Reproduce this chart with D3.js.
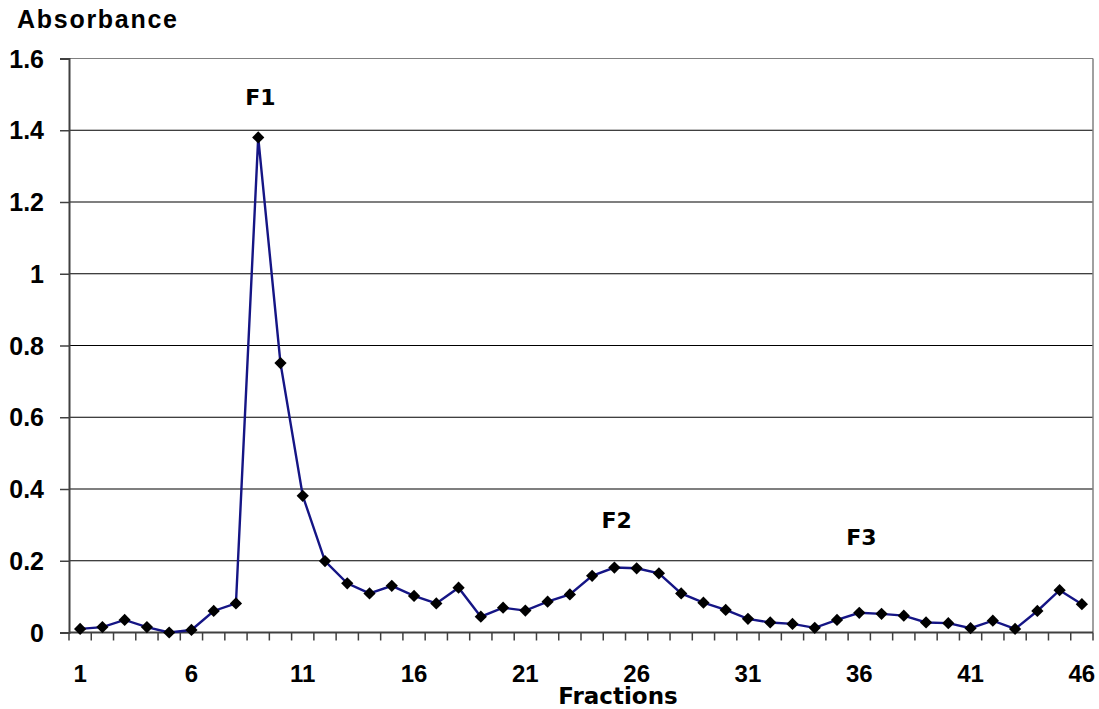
<!DOCTYPE html>
<html lang="en">
<head>
<meta charset="utf-8">
<title>Absorbance by fraction</title>
<script src="https://d3js.org/d3.v7.min.js"></script>
<style>
  body { margin: 0; background: #fff; }
  .lbl { font-family: "Liberation Sans", Arial, sans-serif; font-weight: bold; fill: #000; }
  .peak { font-family: "DejaVu Sans", Verdana, sans-serif; font-weight: bold; fill: #000; }
</style>
</head>
<body>
<script>
// Data
var fractions = d3.range(1, 47);
var absorbance = [
  0.010, 0.015, 0.035, 0.015, 0.000, 0.007, 0.060, 0.081, 1.380, 0.751,
  0.381, 0.199, 0.137, 0.109, 0.130, 0.102, 0.081, 0.125, 0.044, 0.069,
  0.061, 0.086, 0.106, 0.158, 0.181, 0.179, 0.165, 0.109, 0.083, 0.063,
  0.038, 0.028, 0.024, 0.013, 0.035, 0.055, 0.052, 0.047, 0.028, 0.026,
  0.012, 0.033, 0.010, 0.060, 0.118, 0.079
];
var yTicks = [0, 0.2, 0.4, 0.6, 0.8, 1, 1.2, 1.4, 1.6];
var xTickLabels = [1, 6, 11, 16, 21, 26, 31, 36, 41, 46];
var peakLabels = [
  { text: "F1", fraction: 9, value: 1.47 },
  { text: "F2", fraction: 25, value: 0.29 },
  { text: "F3", fraction: 36, value: 0.245 }
];

// Plot box
var W = 1099, H = 709;
var plotL = 69, plotR = 1093, plotT = 58.5, plotB = 632.5;

var svg = d3.select("body").append("svg")
  .attr("width", W).attr("height", H);

var x = d3.scaleBand().domain(fractions).range([plotL, plotR]).padding(0);
var y = d3.scaleLinear().domain([0, 1.6]).range([plotB, plotT]);
var cx = function(f) { return x(f) + x.bandwidth() / 2; };

// gridlines
svg.append("g").selectAll("line")
  .data(yTicks.filter(function(d) { return d > 0; }))
  .enter().append("line")
  .attr("x1", plotL).attr("x2", plotR)
  .attr("y1", function(d) { return y(d); })
  .attr("y2", function(d) { return y(d); })
  .attr("stroke", function(d) { return d === 1.6 ? "#808080" : "#000"; })
  .attr("stroke-width", 1.2);

// right border
svg.append("line")
  .attr("x1", plotR).attr("x2", plotR).attr("y1", plotT).attr("y2", plotB)
  .attr("stroke", "#808080").attr("stroke-width", 1.5);

// y axis
var yAxis = d3.axisLeft(y).tickValues(yTicks).tickSize(9).tickFormat(d3.format("~g"));
var gy = svg.append("g").attr("transform", "translate(" + plotL + ",0)").call(yAxis);
gy.select(".domain").attr("stroke", "#404040").attr("stroke-width", 2);
gy.selectAll(".tick line").attr("stroke", "#404040").attr("stroke-width", 1.5);
gy.selectAll(".tick text").remove();
svg.append("g").selectAll("text")
  .data(yTicks)
  .enter().append("text")
  .attr("class", "lbl")
  .attr("x", 44)
  .attr("y", function(d) { return y(d) + 9; })
  .attr("text-anchor", "end")
  .style("font-size", "25px")
  .text(function(d) { return d3.format("~g")(d); });

// x axis line and ticks at category boundaries
svg.append("line")
  .attr("x1", plotL).attr("x2", plotR).attr("y1", plotB).attr("y2", plotB)
  .attr("stroke", "#404040").attr("stroke-width", 2);
var bounds = fractions.map(function(f) { return x(f); }).concat([plotR]);
svg.append("g").selectAll("line")
  .data(bounds)
  .enter().append("line")
  .attr("x1", function(d) { return d; }).attr("x2", function(d) { return d; })
  .attr("y1", plotB).attr("y2", plotB + 8)
  .attr("stroke", "#404040").attr("stroke-width", 1.5);

svg.append("g").selectAll("text")
  .data(xTickLabels)
  .enter().append("text")
  .attr("class", "lbl")
  .attr("x", function(d) { return cx(d); })
  .attr("y", 682)
  .attr("text-anchor", "middle")
  .style("font-size", "24px")
  .text(function(d) { return d; });

// series line
var line = d3.line()
  .x(function(d, i) { return cx(fractions[i]); })
  .y(function(d) { return y(d); });
svg.append("path")
  .datum(absorbance)
  .attr("d", line)
  .attr("fill", "none")
  .attr("stroke", "#151585")
  .attr("stroke-width", 2.4);

// diamond markers
var diamond = d3.symbol().type(d3.symbolSquare).size(75);
svg.append("g").selectAll("path")
  .data(absorbance)
  .enter().append("path")
  .attr("d", diamond)
  .attr("transform", function(d, i) {
    return "translate(" + cx(fractions[i]) + "," + y(d) + ") rotate(45)";
  })
  .attr("fill", "#000");

// peak labels
svg.append("g").selectAll("text")
  .data(peakLabels)
  .enter().append("text")
  .attr("class", "peak")
  .attr("x", function(d) { return cx(d.fraction) - 13; })
  .attr("y", function(d) { return y(d.value); })
  .style("font-size", "22px")
  .text(function(d) { return d.text; });

// axis titles
svg.append("text")
  .attr("class", "lbl")
  .attr("x", 17).attr("y", 28)
  .style("font-size", "25px")
  .attr("textLength", 160)
  .text("Absorbance");

svg.append("text")
  .attr("class", "peak")
  .attr("x", 618).attr("y", 704)
  .attr("text-anchor", "middle")
  .style("font-size", "23px")
  .text("Fractions");
</script>
</body>
</html>
